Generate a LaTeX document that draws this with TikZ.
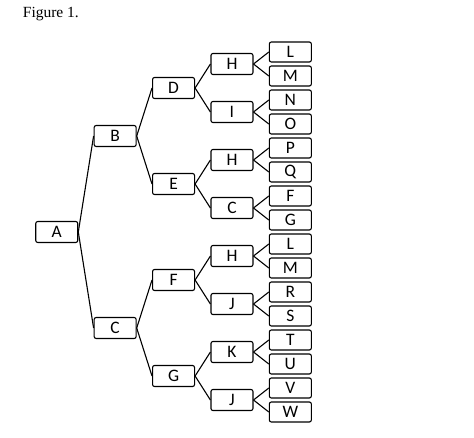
\documentclass[tikz,border=0pt]{standalone}
\usepackage{fontspec}
\setmainfont{Carlito}
\newfontfamily\captionfont{Liberation Serif}
\usetikzlibrary{trees,positioning}

\begin{document}
\begin{tikzpicture}[
				grow'=right,
				level distance=58.4pt,
				level 1/.style={sibling distance=192pt},
				level 2/.style={sibling distance=96pt},
				level 3/.style={sibling distance=48pt},
				level 4/.style={sibling distance=24pt},
				parent anchor=east, child anchor=west,
				edge from parent/.style={draw, line width=1.1pt},
				letter/.style={rectangle, draw, line width=1.1pt, rounded corners=2pt, minimum width=42pt, minimum height=21pt, inner sep=0pt, font=\fontsize{17.5}{18}\selectfont},
				leaf/.style={letter, minimum height=20pt}
				]
				\useasboundingbox (0pt,0pt) rectangle (474pt,-437pt);
				\node[anchor=base west, inner sep=0pt, font=\captionfont\fontsize{15.5}{18}\selectfont] (title) at (22.7pt,-17pt) {Figure 1.};
				
				\node (a) [letter] at (56.75pt,-232pt) {A}
				child {
					node (b) [letter] {B}
					child {
						node (d) [letter] {D}
						child {node (dh) [letter] {H}
							child {node (dhl) [leaf] {L}}
							child {node (dhm) [leaf] {M}}
						}
						child {node (di) [letter] {I}
							child {node (din) [leaf] {N}}
							child {node (dio) [leaf] {O}}
						}
					}
					child {
						node (e) [letter] {E}
						child {node (eh) [letter] {H}
							child {node (ehp) [leaf] {P}}
							child {node (ehq) [leaf] {Q}}
						}
						child {node (ec) [letter] {C}
							child {node (ecf) [leaf] {F}}
							child {node (ecg) [leaf] {G}}
						}
					}
				}
				child {
					node (c) [letter] {C}
					child {
						node (f) [letter] {F}
						child {node (fh) [letter] {H}
							child {node (fhl) [leaf] {L}}
							child {node (fhm) [leaf] {M}}
						}
						child {node (fj) [letter] {J}
							child {node (fjr) [leaf] {R}}
							child {node (fjs) [leaf] {S}}
						}
					}
					child {
						node (g) [letter] {G}
						child {node (gk) [letter] {K}
							child {node (gkt) [leaf] {T}}
							child {node (gku) [leaf] {U}}
						}
						child {node (gj) [letter] {J}
							child {node (gjv) [leaf] {V}}
							child {node (gjw) [leaf] {W}}
						}
					}
				};
			\end{tikzpicture}
\end{document}
